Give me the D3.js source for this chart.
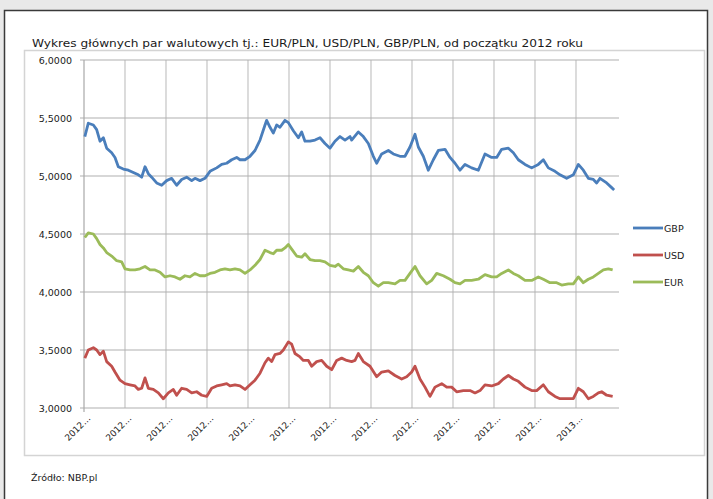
<!DOCTYPE html>
<html><head><meta charset="utf-8">
<script src="https://cdn.jsdelivr.net/npm/d3@7"></script>
<style>body{margin:0;background:#e9e9e9}svg{display:block}text{-webkit-font-smoothing:antialiased}</style>
</head><body>
<svg id="c" width="713" height="499"></svg>
<script>
const title = "Wykres głównych par walutowych tj.: EUR/PLN, USD/PLN, GBP/PLN, od początku 2012 roku";
const source = "Źródło: NBP.pl";
const yTicks = [3.0, 3.5, 4.0, 4.5, 5.0, 5.5, 6.0];
const xTickLabels = ["2012…","2012…","2012…","2012…","2012…","2012…","2012…","2012…","2012…","2012…","2012…","2012…","2013…"];
const seriesNames = ["GBP","USD","EUR"];
// [months since start of 2012, rate]
const gbp = [[0.02,5.34],[0.105,5.455],[0.228,5.44],[0.309,5.40],[0.39,5.30],[0.472,5.33],[0.553,5.24],[0.675,5.20],[0.756,5.16],[0.837,5.08],[0.959,5.06],[1.081,5.05],[1.203,5.03],[1.325,5.01],[1.407,4.99],[1.488,5.08],[1.569,5.02],[1.65,4.99],[1.772,4.94],[1.894,4.92],[2.016,4.96],[2.138,4.98],[2.26,4.92],[2.382,4.97],[2.504,4.99],[2.626,4.96],[2.707,4.98],[2.829,4.96],[2.951,4.98],[3.073,5.04],[3.236,5.07],[3.358,5.10],[3.48,5.11],[3.602,5.14],[3.724,5.16],[3.805,5.14],[3.927,5.14],[4.049,5.17],[4.171,5.22],[4.293,5.31],[4.415,5.44],[4.455,5.48],[4.537,5.42],[4.618,5.37],[4.699,5.44],[4.78,5.42],[4.902,5.48],[4.984,5.46],[5.106,5.39],[5.228,5.33],[5.309,5.38],[5.39,5.30],[5.512,5.30],[5.634,5.31],[5.756,5.33],[5.878,5.28],[6.0,5.24],[6.122,5.30],[6.244,5.34],[6.366,5.31],[6.488,5.34],[6.528,5.31],[6.691,5.38],[6.813,5.34],[6.935,5.28],[7.057,5.17],[7.138,5.11],[7.26,5.19],[7.423,5.22],[7.545,5.19],[7.707,5.17],[7.829,5.17],[7.951,5.25],[8.073,5.36],[8.154,5.25],[8.276,5.17],[8.398,5.05],[8.52,5.14],[8.642,5.22],[8.805,5.23],[8.927,5.16],[9.049,5.11],[9.171,5.05],[9.293,5.10],[9.455,5.07],[9.618,5.05],[9.78,5.19],[9.943,5.16],[10.065,5.16],[10.187,5.23],[10.35,5.24],[10.472,5.20],[10.593,5.14],[10.756,5.10],[10.919,5.07],[11.081,5.10],[11.203,5.14],[11.325,5.07],[11.488,5.04],[11.61,5.01],[11.772,4.98],[11.935,5.01],[12.057,5.10],[12.179,5.05],[12.301,4.98],[12.423,4.97],[12.504,4.94],[12.585,4.98],[12.667,4.96],[12.748,4.94],[12.87,4.90],[12.93,4.88]];
const usd = [[0.02,3.43],[0.105,3.50],[0.228,3.52],[0.309,3.50],[0.39,3.46],[0.472,3.49],[0.553,3.40],[0.675,3.36],[0.756,3.31],[0.878,3.24],[1.0,3.21],[1.122,3.20],[1.244,3.19],[1.325,3.16],[1.407,3.17],[1.488,3.26],[1.569,3.17],[1.691,3.16],[1.813,3.13],[1.935,3.08],[2.057,3.13],[2.179,3.16],[2.26,3.11],[2.382,3.17],[2.504,3.16],[2.626,3.13],[2.748,3.14],[2.87,3.11],[2.992,3.10],[3.114,3.17],[3.236,3.19],[3.358,3.20],[3.48,3.21],[3.561,3.19],[3.683,3.20],[3.805,3.19],[3.927,3.16],[4.049,3.20],[4.171,3.24],[4.293,3.30],[4.415,3.39],[4.496,3.43],[4.577,3.40],[4.659,3.46],[4.78,3.47],[4.862,3.50],[4.984,3.57],[5.065,3.55],[5.146,3.47],[5.268,3.44],[5.35,3.41],[5.472,3.41],[5.553,3.36],[5.675,3.40],[5.797,3.41],[5.919,3.36],[6.041,3.33],[6.163,3.41],[6.285,3.43],[6.407,3.41],[6.528,3.40],[6.61,3.41],[6.691,3.47],[6.813,3.40],[6.976,3.36],[7.138,3.27],[7.26,3.31],[7.423,3.32],[7.585,3.28],[7.748,3.25],[7.87,3.27],[7.992,3.31],[8.073,3.36],[8.195,3.25],[8.317,3.18],[8.439,3.10],[8.561,3.18],[8.724,3.21],[8.846,3.18],[8.967,3.18],[9.089,3.14],[9.252,3.15],[9.415,3.15],[9.537,3.13],[9.659,3.15],[9.78,3.20],[9.943,3.19],[10.106,3.21],[10.228,3.25],[10.35,3.28],[10.472,3.25],[10.593,3.23],[10.756,3.18],[10.919,3.15],[11.041,3.15],[11.203,3.20],[11.325,3.14],[11.488,3.10],[11.61,3.08],[11.772,3.08],[11.935,3.08],[12.057,3.17],[12.179,3.14],[12.301,3.08],[12.423,3.10],[12.545,3.13],[12.626,3.14],[12.748,3.11],[12.894,3.10]];
const eur = [[0.02,4.47],[0.105,4.51],[0.228,4.50],[0.309,4.46],[0.39,4.41],[0.472,4.38],[0.553,4.34],[0.675,4.31],[0.797,4.27],[0.919,4.26],[1.0,4.20],[1.122,4.19],[1.244,4.19],[1.366,4.20],[1.488,4.22],[1.61,4.19],[1.732,4.19],[1.854,4.17],[1.976,4.13],[2.098,4.14],[2.22,4.13],[2.341,4.11],[2.463,4.14],[2.585,4.13],[2.707,4.16],[2.829,4.14],[2.951,4.14],[3.073,4.16],[3.195,4.17],[3.317,4.19],[3.439,4.20],[3.561,4.19],[3.683,4.20],[3.805,4.19],[3.927,4.16],[4.049,4.19],[4.171,4.23],[4.293,4.28],[4.415,4.36],[4.537,4.34],[4.618,4.33],[4.699,4.36],[4.821,4.36],[4.902,4.38],[4.984,4.41],[5.065,4.37],[5.187,4.31],[5.309,4.30],[5.39,4.33],[5.512,4.28],[5.634,4.27],[5.756,4.27],[5.878,4.26],[6.0,4.23],[6.122,4.22],[6.203,4.24],[6.325,4.20],[6.447,4.19],[6.57,4.18],[6.691,4.22],[6.813,4.17],[6.935,4.14],[7.057,4.08],[7.179,4.05],[7.301,4.08],[7.423,4.08],[7.585,4.07],[7.707,4.10],[7.829,4.10],[7.951,4.16],[8.073,4.22],[8.195,4.14],[8.358,4.07],[8.48,4.10],[8.602,4.16],[8.764,4.14],[8.927,4.11],[9.049,4.08],[9.171,4.07],[9.293,4.10],[9.455,4.10],[9.618,4.11],[9.78,4.15],[9.943,4.13],[10.065,4.13],[10.187,4.16],[10.35,4.19],[10.472,4.16],[10.593,4.14],[10.756,4.10],[10.919,4.10],[11.081,4.13],[11.203,4.11],[11.366,4.08],[11.528,4.08],[11.65,4.06],[11.813,4.07],[11.935,4.07],[12.057,4.13],[12.179,4.08],[12.301,4.11],[12.423,4.13],[12.545,4.16],[12.667,4.19],[12.789,4.20],[12.894,4.19]];
const colors = {GBP:"#4a7ebb", USD:"#c0504d", EUR:"#9bbb59"};

const svg = d3.select("#c");
const font = "'DejaVu Sans', Verdana, sans-serif";
svg.append("rect").attr("width",713).attr("height",499).attr("fill","#e9e9e9");
svg.append("rect").attr("x",4.5).attr("y",10.5).attr("width",703).attr("height",495)
  .attr("fill","#fff").attr("stroke","#3a3a3a").attr("stroke-width",1.5);
svg.append("rect").attr("x",24.5).attr("y",50.5).attr("width",680).attr("height",405)
  .attr("fill","#fff").attr("stroke","#d4d4d4").attr("stroke-width",1.5);

svg.append("text").attr("x",32).attr("y",47).attr("font-family",font).attr("font-size",10.5)
  .attr("fill","#1a1a1a").attr("textLength",551).attr("lengthAdjust","spacingAndGlyphs").text(title);
svg.append("text").attr("x",31).attr("y",481).attr("font-family",font).attr("font-size",9.5)
  .attr("fill","#1a1a1a").text(source);

const x = d3.scaleLinear().domain([0,13]).range([84,617]);
const y = d3.scaleLinear().domain([3,6]).range([408,60]);

// vertical gridlines
svg.append("g").selectAll("line").data(d3.range(1,13)).join("line")
  .attr("x1",d=>x(d)).attr("x2",d=>x(d)).attr("y1",y(6)).attr("y2",y(3))
  .attr("stroke","#c4c4c4").attr("stroke-width",1.2);
// horizontal gridlines
svg.append("g").selectAll("line").data(yTicks).join("line")
  .attr("x1",x(0)-4).attr("x2",x(13)+2).attr("y1",d=>y(d)).attr("y2",d=>y(d))
  .attr("stroke","#b0b0b0").attr("stroke-width",1.2);
svg.append("line").attr("x1",x(0)).attr("x2",x(0)).attr("y1",y(6)).attr("y2",y(3)+4)
  .attr("stroke","#a8a8a8").attr("stroke-width",1.2);

// y labels
const yAxis = d3.axisLeft(y).tickValues(yTicks).tickSize(0).tickPadding(12)
  .tickFormat(d=>d3.format(".4f")(d).replace(".",","));
const ga = svg.append("g").attr("transform",`translate(${x(0)},0)`).call(yAxis);
ga.select(".domain").remove();
ga.selectAll("text").attr("font-family",font).attr("font-size",9.5).attr("fill","#1a1a1a");

// x labels
svg.append("g").attr("opacity",0.999).selectAll("text").data(xTickLabels).join("text")
  .attr("transform",(d,i)=>`translate(${x(i)+7},419) rotate(-45)`)
  .attr("text-anchor","end").attr("font-family",font).attr("font-size",9)
  .attr("fill","#1a1a1a").text(d=>d);

// lines
const line = d3.line().x(d=>x(d[0])).y(d=>y(d[1]));
const data = {GBP:gbp, USD:usd, EUR:eur};
["EUR","USD","GBP"].forEach(k=>{
  svg.append("path").datum(data[k]).attr("d",line).attr("fill","none")
    .attr("stroke",colors[k]).attr("stroke-width",2.8).attr("stroke-linejoin","round");
});

// legend
const lg = svg.append("g");
seriesNames.forEach((k,i)=>{
  const yy = 228 + i*27;
  lg.append("line").attr("x1",633).attr("x2",663).attr("y1",yy).attr("y2",yy)
    .attr("stroke",colors[k]).attr("stroke-width",2.8);
  lg.append("text").attr("x",664).attr("y",yy+3.5).attr("font-family",font)
    .attr("font-size",9.5).attr("fill","#1a1a1a").text(k);
});
</script>
</body></html>
